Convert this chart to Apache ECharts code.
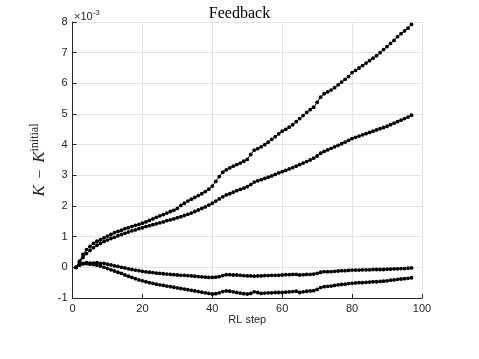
<!DOCTYPE html>
<html>
<head>
<meta charset="utf-8">
<script src="https://cdn.jsdelivr.net/npm/echarts@6/dist/echarts.min.js"></script>
<style>html,body{margin:0;padding:0;background:#fff;}#c{width:479px;height:359px;}</style>
</head>
<body>
<div id="c"></div>
<script>
const steps = [];
for (let i = 1; i <= 97; i++) steps.push(i);

const seriesA = [0,0.2,0.42,0.58,0.68,0.78,0.85,0.9,0.96,1.02,1.07,1.13,1.17,1.21,1.26,1.29,1.33,1.37,1.4,1.44,
1.48,1.53,1.58,1.63,1.68,1.72,1.77,1.82,1.86,1.92,2.02,2.09,2.16,2.22,2.28,2.34,2.4,2.47,2.55,2.65,
2.8,2.96,3.1,3.18,3.24,3.3,3.35,3.4,3.46,3.52,3.68,3.82,3.87,3.93,4.0,4.08,4.17,4.26,4.35,4.44,
4.5,4.57,4.65,4.75,4.85,4.95,5.05,5.14,5.22,5.38,5.55,5.66,5.72,5.78,5.86,5.95,6.04,6.13,6.22,6.35,
6.42,6.5,6.58,6.66,6.74,6.82,6.9,7.0,7.1,7.2,7.3,7.4,7.52,7.62,7.71,7.8,7.92];

const seriesB = [0,0.15,0.32,0.45,0.55,0.64,0.72,0.78,0.84,0.89,0.94,0.98,1.03,1.07,1.11,1.15,1.19,1.22,1.26,1.29,
1.33,1.36,1.39,1.42,1.45,1.48,1.52,1.55,1.58,1.62,1.65,1.69,1.73,1.77,1.82,1.87,1.92,1.97,2.03,2.09,
2.16,2.23,2.3,2.36,2.4,2.45,2.5,2.54,2.58,2.63,2.7,2.78,2.82,2.86,2.9,2.94,2.98,3.03,3.08,3.12,
3.16,3.21,3.25,3.3,3.35,3.4,3.45,3.5,3.56,3.63,3.72,3.78,3.83,3.88,3.93,3.98,4.03,4.08,4.14,4.2,
4.24,4.28,4.32,4.36,4.4,4.44,4.48,4.52,4.56,4.6,4.65,4.7,4.75,4.8,4.85,4.9,4.96];

const seriesC = [0,0.08,0.13,0.15,0.14,0.14,0.15,0.13,0.13,0.1,0.08,0.05,0.03,0.0,-0.02,-0.05,-0.07,-0.09,-0.11,-0.13,
-0.15,-0.16,-0.17,-0.19,-0.2,-0.21,-0.22,-0.23,-0.24,-0.25,-0.26,-0.26,-0.27,-0.28,-0.29,-0.3,-0.31,-0.32,-0.33,-0.33,
-0.32,-0.3,-0.27,-0.24,-0.24,-0.25,-0.25,-0.26,-0.27,-0.28,-0.28,-0.29,-0.28,-0.28,-0.27,-0.27,-0.26,-0.26,-0.26,-0.25,
-0.24,-0.24,-0.23,-0.23,-0.25,-0.24,-0.23,-0.23,-0.22,-0.2,-0.16,-0.14,-0.14,-0.14,-0.13,-0.12,-0.11,-0.11,-0.1,-0.09,
-0.09,-0.09,-0.08,-0.08,-0.08,-0.07,-0.07,-0.07,-0.07,-0.06,-0.06,-0.05,-0.05,-0.04,-0.04,-0.03,-0.02];

const seriesD = [0,0.07,0.11,0.12,0.1,0.09,0.07,0.04,0.0,-0.04,-0.08,-0.12,-0.16,-0.2,-0.25,-0.29,-0.33,-0.37,-0.41,-0.44,
-0.47,-0.5,-0.52,-0.55,-0.57,-0.59,-0.61,-0.63,-0.65,-0.67,-0.69,-0.71,-0.73,-0.75,-0.77,-0.79,-0.81,-0.83,-0.85,-0.87,
-0.86,-0.83,-0.79,-0.77,-0.78,-0.8,-0.82,-0.84,-0.86,-0.87,-0.85,-0.8,-0.82,-0.85,-0.84,-0.83,-0.83,-0.82,-0.82,-0.82,
-0.81,-0.8,-0.79,-0.78,-0.82,-0.8,-0.78,-0.77,-0.76,-0.72,-0.66,-0.63,-0.62,-0.61,-0.59,-0.57,-0.56,-0.55,-0.53,-0.52,
-0.51,-0.5,-0.5,-0.49,-0.48,-0.47,-0.47,-0.46,-0.45,-0.44,-0.42,-0.41,-0.39,-0.38,-0.37,-0.36,-0.34];

const xTicks = [0, 20, 40, 60, 80, 100];
const yTicks = [-1, 0, 1, 2, 3, 4, 5, 6, 7, 8];

const TXT = '#262626';
const GRID = '#e3e3e3';

function mk(vals) {
  return {
    type: 'line',
    data: steps.map((s, i) => [s, vals[i]]),
    symbol: 'circle',
    symbolSize: 3.8,
    showSymbol: true,
    lineStyle: { color: '#000', width: 1 },
    itemStyle: { color: '#000' },
    animation: false,
    z: 3
  };
}

const chart = echarts.init(document.getElementById('c'), null, { renderer: 'canvas' });
chart.setOption({
  backgroundColor: '#fff',
  animation: false,
  title: {
    text: 'Feedback',
    left: 'center',
    top: 1,
    textStyle: { fontFamily: 'Liberation Serif', fontWeight: 'normal', fontSize: 16, color: '#000' }
  },
  grid: { left: 72.5, right: 57, top: 22, bottom: 61, containLabel: false },
  xAxis: {
    type: 'value',
    min: xTicks[0], max: xTicks[xTicks.length - 1], interval: 20,
    name: 'RL step',
    nameLocation: 'middle',
    nameGap: 16,
    nameMoveOverlap: false,
    nameTextStyle: { fontFamily: 'Liberation Sans', fontSize: 11, color: TXT },
    axisLine: { show: true, onZero: false, lineStyle: { color: TXT, width: 1 } },
    axisTick: { show: true, inside: true, length: 4, lineStyle: { color: TXT } },
    axisLabel: { margin: 5, fontFamily: 'Liberation Sans', fontSize: 11, color: TXT },
    splitLine: { show: true, lineStyle: { color: GRID, width: 1 } }
  },
  yAxis: {
    type: 'value',
    min: yTicks[0], max: yTicks[yTicks.length - 1], interval: 1,
    name: '{i|K}  {n|−}  {i|K}{s|initial}',
    nameLocation: 'middle',
    nameRotate: 90,
    nameGap: 24,
    nameMoveOverlap: false,
    nameTextStyle: {
      color: TXT,
      rich: {
        i: { fontFamily: 'Liberation Serif', fontStyle: 'italic', fontSize: 17, color: TXT, verticalAlign: 'bottom', lineHeight: 20 },
        n: { fontFamily: 'Liberation Serif', fontSize: 16, color: TXT, verticalAlign: 'bottom', lineHeight: 20 },
        s: { fontFamily: 'Liberation Serif', fontSize: 12, color: TXT, verticalAlign: 'top', lineHeight: 20, padding: [0, 0, 8, 0] }
      }
    },
    axisLine: { show: true, onZero: false, lineStyle: { color: TXT, width: 1 } },
    axisTick: { show: true, inside: true, length: 4, lineStyle: { color: TXT } },
    axisLabel: { margin: 5, fontFamily: 'Liberation Sans', fontSize: 11, color: TXT },
    splitLine: { show: true, lineStyle: { color: GRID, width: 1 } }
  },
  graphic: [{
    type: 'text',
    left: 74,
    top: 9,
    style: {
      text: '{a|×10}{b|-3}',
      rich: {
        a: { fontFamily: 'Liberation Sans', fontSize: 11, fill: TXT, padding: [4, 0, 0, 0] },
        b: { fontFamily: 'Liberation Sans', fontSize: 8, fill: TXT, padding: [0, 0, 4, 0] }
      }
    }
  }],
  series: [mk(seriesA), mk(seriesB), mk(seriesC), mk(seriesD)]
});
</script>
</body>
</html>
